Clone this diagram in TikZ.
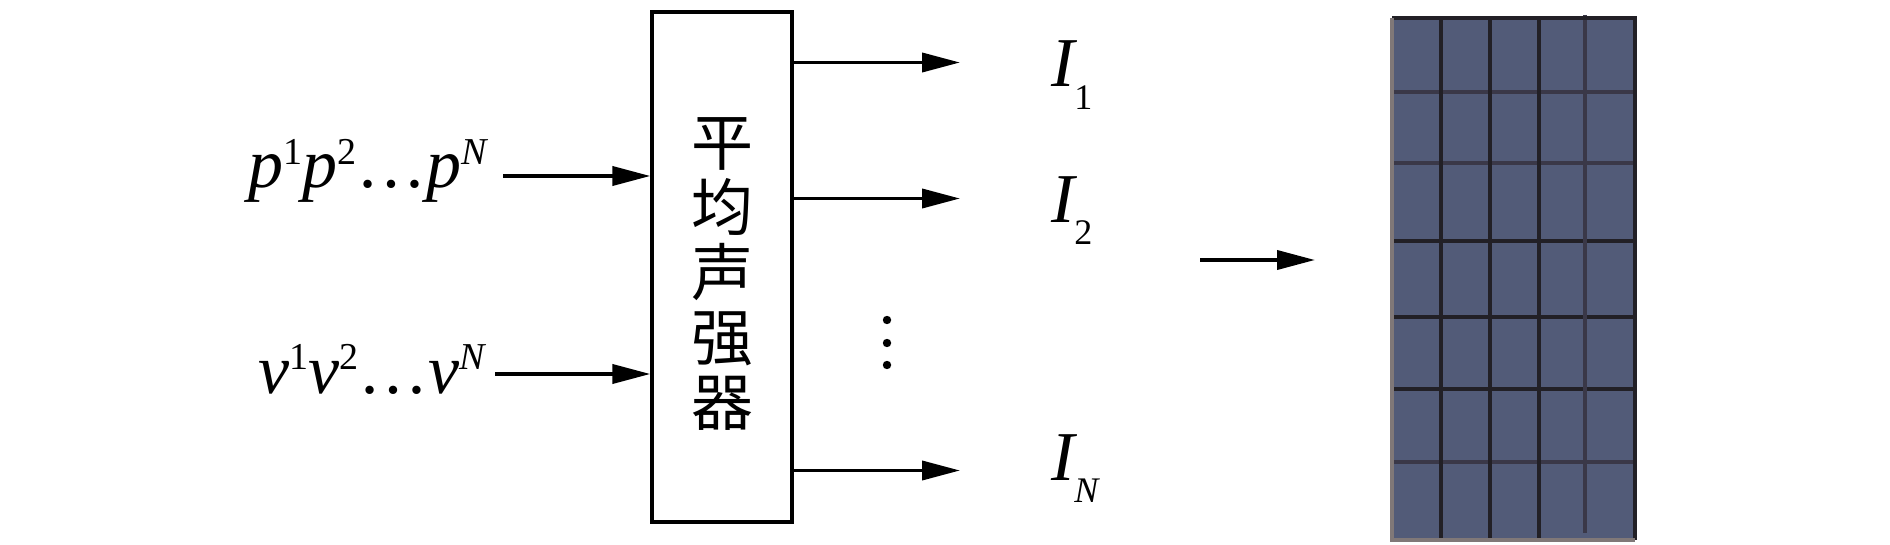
\documentclass[tikz,border=0pt]{standalone}
\usepackage{fontspec}
\setmainfont{Liberation Serif}
\newfontfamily\cjk{Noto Sans CJK SC}
\usetikzlibrary{arrows.meta}
\definecolor{panel}{RGB}{82,91,120}
\definecolor{gridline}{RGB}{34,32,38}
\definecolor{gridfaint}{RGB}{58,56,72}
\definecolor{edgegray}{RGB}{128,120,120}
\newcommand{\supx}[1]{\raisebox{0.34em}{\fontsize{19pt}{19pt}\selectfont #1}}
\newcommand{\subx}[1]{\kern-1.5pt\raisebox{-0.32em}{\fontsize{18pt}{18pt}\selectfont #1}}
\begin{document}
\begin{tikzpicture}[x=0.5pt,y=-0.5pt,
  arr/.style={line width=1.9pt,-{Triangle[length=19pt,width=9.5pt]}},
  lbl/.style={font=\fontsize{35pt}{35pt}\selectfont,inner sep=0pt},
  blk/.style={draw,line width=1.65pt,minimum width=70pt,minimum height=255pt,inner sep=0pt}]
\useasboundingbox (0,0) rectangle (1890,545);
% central block
\node[blk] (box) at (722,267) {};
\node[inner sep=0pt,align=center,font=\cjk\fontsize{31pt}{32.5pt}\selectfont] (txt) at (722,274) {平\\均\\声\\强\\器};
% inputs
\node[lbl,anchor=base west] (p) at (248,188) {\textit{p}\supx{1}\textit{p}\supx{2}\ldots\textit{p}\supx{\textit{N}}};
\node[lbl,anchor=base west] (v) at (258,393) {\textit{v}\supx{1}\textit{v}\supx{2}\ldots\textit{v}\supx{\textit{N}}};
\coordinate (pin) at (503,176);
\coordinate (vin) at (495,374);
\draw[arr] (pin) -- (box.west |- pin);
\draw[arr] (vin) -- (box.west |- vin);
% outputs
\coordinate (o1) at (960,62.5);
\coordinate (o2) at (960,198.5);
\coordinate (oN) at (960,470.5);
\draw[arr] (box.east |- o1) -- (o1);
\draw[arr] (box.east |- o2) -- (o2);
\draw[arr] (box.east |- oN) -- (oN);
\node[lbl,anchor=base west] (I1) at (1051,87) {\textit{I}\subx{1}};
\node[lbl,anchor=base west] (I2) at (1051,222.5) {\textit{I}\subx{2}};
\node[lbl,anchor=base west] (IN) at (1051,480) {\textit{I}\subx{\textit{N}}};
\foreach \yy in {320,343,365} \fill (887,\yy) circle (2.1pt);
% arrow to panel
\coordinate (a1) at (1200,260);
\coordinate (a2) at (1315,260);
\draw[arr] (a1) -- (a2);
% panel
\fill[panel] (1392,18) rectangle (1635,540);
\foreach \yy in {92,163,462} \draw[gridfaint,line width=1.6pt] (1392,\yy) -- (1635,\yy);
\foreach \yy in {241,317,389} \draw[gridline,line width=1.6pt] (1392,\yy) -- (1635,\yy);
\foreach \xx in {1441,1490,1539} \draw[gridline,line width=1.6pt] (\xx,18) -- (\xx,540);
\draw[gridfaint,line width=1.6pt] (1585,15) -- (1585,533);
\draw[gridline,line width=1.6pt] (1392,18) -- (1635,18) -- (1635,540);
\draw[edgegray,line width=1.6pt] (1392,18) -- (1392,540) -- (1635,540);
\end{tikzpicture}
\end{document}
